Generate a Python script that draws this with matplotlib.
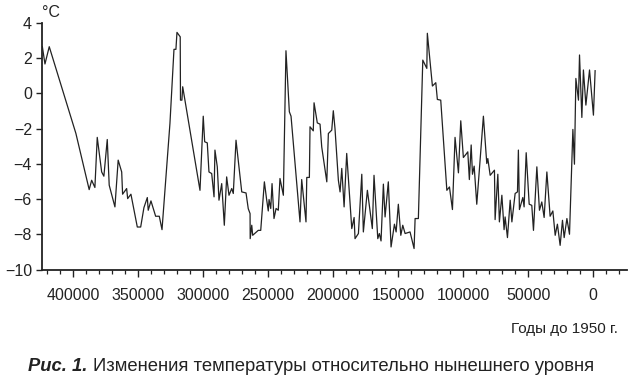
import matplotlib
matplotlib.use("Agg")
import matplotlib.pyplot as plt
from matplotlib.ticker import MultipleLocator, FuncFormatter

plt.rcParams['font.family'] = ['Liberation Sans', 'DejaVu Sans']

# years before 1950 (thousands)
years_k = [423.5, 421.5, 418.2, 397.7, 387.5, 385.6, 383.1, 381.3, 377.9, 376.2,
           373.6, 372.1, 367.7, 365.2, 362.5, 361.8, 358.7, 357.9, 355.4, 350.5,
           347.9, 345.4, 342.8, 342.1, 340.0, 336.4, 333.6, 331.5, 325.4, 322.3,
           320.8, 320.0, 317.5, 317.3, 316.2, 315.6, 302.3, 299.8, 298.7, 296.7,
           295.4, 293.3, 291.5, 290.8, 289.0, 287.7, 285.6, 283.6, 281.8, 280.0,
           277.9, 276.7, 274.6, 270.2, 266.9, 265.2, 263.8, 263.7, 262.5, 261.8,
           257.5, 255.6, 252.8, 251.0, 249.8, 249.2, 247.9, 246.9, 245.4, 243.8,
           242.1, 240.8, 238.2, 236.2, 233.6, 232.3, 225.4, 224.1, 220.8, 220.2,
           218.2, 217.7, 215.2, 214.6, 212.1, 210.0, 208.7, 204.8, 203.6, 201.0,
           199.8, 198.5, 195.9, 194.6, 193.3, 191.5, 189.5, 185.6, 183.8, 183.1,
           180.5, 177.9, 176.7, 173.6, 169.8, 168.5, 165.6, 164.4, 163.1, 161.3,
           160.0, 157.5, 155.4, 152.8, 151.5, 149.8, 147.9, 146.4, 144.6, 140.8,
           137.7, 136.9, 134.4, 131.0, 127.9, 127.5, 123.6, 121.0, 119.8, 117.2,
           112.5, 110.5, 108.2, 106.2, 103.6, 101.8, 99.8, 97.7, 96.4, 95.2,
           93.8, 92.8, 91.5, 89.5, 84.4, 81.8, 81.0, 79.2, 75.9, 75.4,
           73.3, 72.1, 70.2, 68.5, 67.7, 65.9, 63.8, 62.5, 60.0, 58.2,
           57.5, 56.7, 54.1, 53.1, 51.5, 49.2, 47.2, 45.9, 43.3, 41.3,
           39.5, 37.7, 35.6, 33.1, 31.0, 29.2, 27.5, 25.4, 23.6, 22.3,
           20.2, 18.2, 15.6, 14.4, 13.3, 11.3, 10.5, 8.7, 7.5, 5.6,
           2.8, -0.2, -1.5]
temps = [2.64, 1.66, 2.64, -2.28, -5.46, -4.93, -5.34, -2.50, -4.46, -4.70,
         -2.62, -5.21, -6.44, -3.79, -4.46, -5.72, -5.40, -5.97, -5.72, -7.58,
         -7.58, -6.48, -5.91, -6.63, -6.10, -6.97, -6.97, -7.73, -1.71, 2.49,
         2.49, 3.45, 3.20, -0.39, -0.39, 0.37, -5.50, -1.30, -2.75, -2.81,
         -4.46, -4.55, -5.87, -3.22, -4.17, -6.06, -5.12, -7.48, -4.74, -5.78,
         -5.40, -5.68, -2.66, -5.59, -5.65, -6.54, -6.82, -8.24, -7.48, -8.05,
         -7.77, -7.77, -5.02, -6.06, -6.67, -6.02, -6.53, -5.12, -7.10, -6.53,
         -6.63, -4.83, -5.78, 2.41, -1.05, -1.30, -7.29, -4.89, -7.29, -4.77,
         -4.77, -1.90, -2.13, -0.54, -1.68, -1.75, -3.04, -5.02, -2.28, -2.09,
         -0.99, -2.00, -4.93, -5.59, -4.26, -6.44, -3.41, -7.67, -7.04, -8.24,
         -7.95, -4.59, -7.86, -5.50, -7.67, -4.65, -8.24, -7.95, -8.37, -5.15,
         -7.01, -5.02, -8.71, -7.42, -7.86, -6.29, -8.05, -7.48, -7.95, -7.86,
         -8.80, -7.10, -7.10, 1.88, 1.41, 3.40, 0.41, 0.60, -0.35, -0.39,
         -5.50, -5.31, -6.59, -2.50, -4.51, -1.56, -3.64, -3.45, -3.32, -4.89,
         -2.93, -4.59, -4.13, -6.29, -1.30, -3.98, -3.70, -4.65, -4.36, -7.16,
         -4.59, -7.29, -5.78, -7.73, -7.01, -8.18, -6.06, -7.29, -5.68, -5.59,
         -3.22, -6.59, -5.91, -6.44, -3.37, -6.29, -6.35, -7.77, -4.17, -6.63,
         -6.16, -7.04, -4.46, -6.97, -6.67, -8.05, -7.42, -8.62, -7.20, -8.18,
         -7.10, -7.99, -2.05, -4.02, 0.84, -0.39, 2.17, -1.37, 1.32, -0.67,
         1.32, -1.24, 1.28]
years = [y * 1000 for y in years_k]

x_ticks = [400000, 350000, 300000, 250000, 200000, 150000, 100000, 50000, 0]
y_ticks = [-10, -8, -6, -4, -2, 0, 2, 4]

fig = plt.figure(figsize=(6.29, 3.77), dpi=100)
ax = fig.add_axes([0.0663, 0.2846, 0.9305, 0.6552])
ax.plot(years, temps, color='#222222', linewidth=0.9)

ax.set_xlim(424000, -26000)
ax.set_ylim(-10, 4)
ax.set_xticks(x_ticks)
ax.xaxis.set_minor_locator(MultipleLocator(10000))
ax.set_yticks(y_ticks)
ax.xaxis.set_major_formatter(FuncFormatter(lambda v, p: f"{int(v)}"))
ax.yaxis.set_major_formatter(FuncFormatter(lambda v, p: f"{int(v)}".replace('-', '\u2212')))

for s in ['top', 'right']:
    ax.spines[s].set_visible(False)
for s in ['left', 'bottom']:
    ax.spines[s].set_linewidth(1.3)
    ax.spines[s].set_color('#222222')

ax.tick_params(axis='x', which='major', direction='out', length=5, width=1.0,
               pad=8.5, labelsize=11.5, colors='#222222')
ax.tick_params(axis='x', which='minor', direction='out', length=3, width=0.9,
               colors='#222222')
ax.tick_params(axis='y', which='major', direction='out', length=4, width=1.0,
               pad=3, labelsize=11.5, colors='#222222')

fig.text(42 / 629, 1 - 17 / 377, '\u00b0C', fontsize=11.5, color='#222222',
         ha='left', va='baseline')
fig.text(618 / 629, 1 - 333 / 377, 'Годы до 1950 г.', fontsize=11, color='#222222',
         ha='right', va='baseline')
fig.text(28 / 629, 1 - 371 / 377, 'Рис. 1.', fontsize=13.2, color='#222222',
         ha='left', va='baseline', fontweight='bold', fontstyle='italic')
fig.text(93 / 629, 1 - 371 / 377, 'Изменения температуры относительно нынешнего уровня',
         fontsize=13.3, color='#222222', ha='left', va='baseline')

fig.savefig('out.png', dpi=100)
